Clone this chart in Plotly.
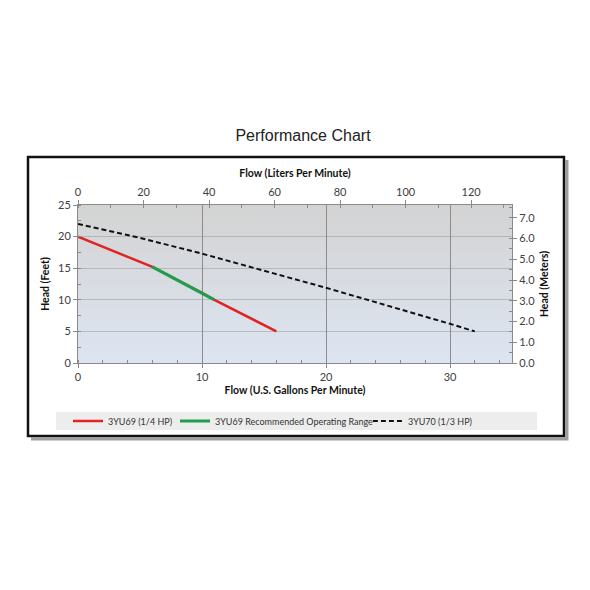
import base64
import plotly.graph_objects as go

# pump curves (flow in US gpm, head in feet)
gpm_3yu69 = [0, 6, 10, 11, 16]
head_3yu69 = [20, 15.2, 11.1, 10, 5]

gpm_range = [6, 10, 11]
head_range = [15.2, 11.1, 10]

gpm_3yu70 = [0, 5, 10, 20, 30, 32]
head_3yu70 = [22, 19.8, 17.3, 11.9, 6.2, 5]

names = ['3YU69 (1/4 HP)', '3YU69 Recommended Operating Range', '3YU70 (1/3 HP)']

# unit conversions for the secondary axes
L_PER_GAL = 3.785411784
M_PER_FT = 0.3048
GPM_MAX = 35
FT_MAX = 25

TICK_FONT = dict(family='Lato', size=11, color='#404040')
TITLE_FONT = dict(family='Lato', size=10.5, color='#111111', weight='bold')
AXIS_COL = '#8a8a8a'

# plot background gradient (grey at top, pale blue at bottom)
svg = ('<svg xmlns="http://www.w3.org/2000/svg" width="10" height="10" '
       'viewBox="0 0 10 10" preserveAspectRatio="none">'
       '<defs><linearGradient id="g" x1="0" y1="0" x2="0" y2="1">'
       '<stop offset="0" stop-color="#d3d3d3"/>'
       '<stop offset="1" stop-color="#dde5f2"/>'
       '</linearGradient></defs>'
       '<rect width="10" height="10" fill="url(#g)"/></svg>')
bg_src = 'data:image/svg+xml;base64,' + base64.b64encode(svg.encode()).decode()

fig = go.Figure()

fig.add_trace(go.Scatter(
    x=gpm_3yu69, y=head_3yu69, mode='lines', name=names[0],
    line=dict(color='#e02424', width=2.5), legend='legend'))
fig.add_trace(go.Scatter(
    x=gpm_range, y=head_range, mode='lines', name=names[1],
    line=dict(color='#1f9e4e', width=3), legend='legend2'))
fig.add_trace(go.Scatter(
    x=gpm_3yu70, y=head_3yu70, mode='lines', name=names[2],
    line=dict(color='#111111', width=2, dash='5px,3px'), legend='legend3'))

# empty trace so the liters / meters axes get drawn
fig.add_trace(go.Scatter(x=[None], y=[None], xaxis='x2', yaxis='y2',
                         showlegend=False, hoverinfo='skip'))

legend_common = dict(orientation='h', yanchor='middle', xanchor='left',
                     bgcolor='rgba(0,0,0,0)',
                     font=dict(family='Lato', size=9, color='#333333'))

fig.update_layout(
    width=590, height=590,
    # page body adds an 8px offset, so the margins are shifted to compensate
    margin=dict(l=70, r=86, t=197, b=235),
    paper_bgcolor='white',
    plot_bgcolor='rgba(0,0,0,0)',
    title=dict(text='Performance Chart', x=0.5, xanchor='center',
               y=1 - 127 / 590, yanchor='middle', yref='container',
               font=dict(family='Liberation Sans', size=16, color='#222222')),
    legend=dict(x=-0.023, y=-0.367, **legend_common),
    legend2=dict(x=0.2235, y=-0.367, **legend_common),
    legend3=dict(x=0.668, y=-0.367, **legend_common),
    xaxis=dict(
        range=[0, GPM_MAX], dtick=10, showline=True, linecolor=AXIS_COL,
        ticks='outside', ticklen=4, tickcolor=AXIS_COL,
        minor=dict(dtick=2, ticks='inside', ticklen=3, tickcolor=AXIS_COL, showgrid=False),
        showgrid=True, gridcolor='#8c8c8c', gridwidth=1, zeroline=False,
        tickfont=TICK_FONT,
        title=dict(text='Flow (U.S. Gallons Per Minute)', font=TITLE_FONT, standoff=4)),
    yaxis=dict(
        range=[0, FT_MAX], dtick=5, showline=True, linecolor=AXIS_COL,
        ticks='outside', ticklen=4, tickcolor=AXIS_COL,
        minor=dict(dtick=2.5, ticks='inside', ticklen=3, tickcolor=AXIS_COL, showgrid=False),
        showgrid=True, gridcolor='rgba(140,140,140,0.45)', gridwidth=1, zeroline=False,
        tickfont=TICK_FONT,
        title=dict(text='Head (Feet)', font=TITLE_FONT, standoff=6)),
    xaxis2=dict(
        overlaying='x', side='top', anchor='y',
        range=[0, GPM_MAX * L_PER_GAL], dtick=20, showline=True, linecolor=AXIS_COL,
        ticks='outside', ticklen=4, tickcolor=AXIS_COL,
        minor=dict(dtick=10, ticks='inside', ticklen=3, tickcolor=AXIS_COL),
        showgrid=False, zeroline=False, tickfont=TICK_FONT,
        title=dict(text='Flow (Liters Per Minute)', font=TITLE_FONT, standoff=4)),
    yaxis2=dict(
        overlaying='y', side='right', anchor='x',
        range=[0, FT_MAX * M_PER_FT], dtick=1, tickformat='.1f',
        showline=True, linecolor=AXIS_COL,
        ticks='outside', ticklen=4, tickcolor=AXIS_COL,
        minor=dict(dtick=0.5, ticks='inside', ticklen=3, tickcolor=AXIS_COL),
        showgrid=False, zeroline=False, tickfont=TICK_FONT,
        title=dict(text='Head (Meters)', font=TITLE_FONT, standoff=6)),
    images=[dict(source=bg_src, xref='paper', yref='paper', x=0, y=1,
                 sizex=1, sizey=1, sizing='stretch', xanchor='left',
                 yanchor='top', layer='below')],
    shapes=[
        # legend band
        dict(type='rect', xref='paper', yref='paper',
             x0=-0.0507, x1=1.0576, y0=-0.424, y1=-0.310,
             fillcolor='#ededed', line=dict(width=0), layer='below'),
        # drop shadow of the frame
        dict(type='path', xref='paper', yref='paper',
             path='M 1.1267,1.285 L 1.1267,-0.481 L -0.1083,-0.481',
             line=dict(color='rgba(80,80,80,0.55)', width=3), layer='below'),
        # outer frame
        dict(type='rect', xref='paper', yref='paper',
             x0=-0.1152, x1=1.1198, y0=-0.462, y1=1.3038,
             fillcolor='rgba(0,0,0,0)', line=dict(color='#111111', width=2.5),
             layer='below'),
    ],
)

fig.write_html('out.html')
